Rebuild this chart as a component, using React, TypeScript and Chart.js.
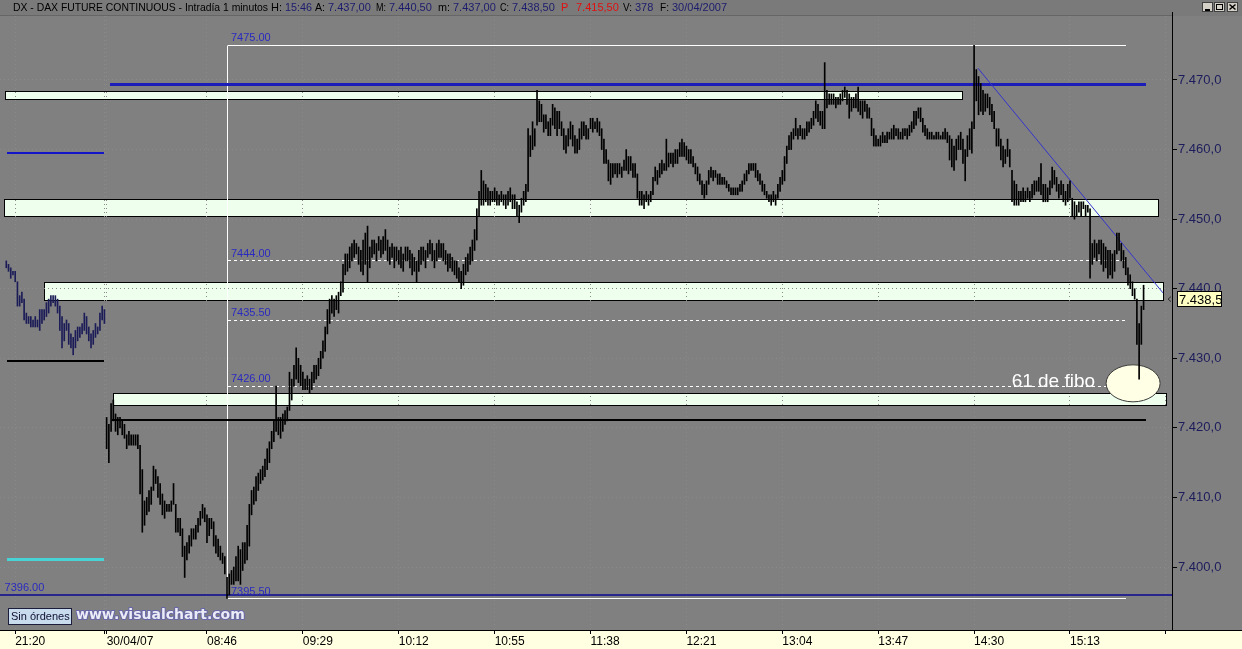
import React, { useEffect, useRef } from 'react';
import { Chart, registerables } from 'chart.js';

Chart.register(...registerables);

const FONT = '"Liberation Sans", Arial, sans-serif';

// x unit = one 1-minute bar. 0 = 22:00 of the previous session, 1 = 08:01 of 30/04/07
const prevStartK = -44;
const prevHigh = [
  7444, 7443.5, 7443, 7442.5, 7442.5, 7441, 7439, 7439.5, 7438.5, 7436.5,
  7436, 7436, 7435.5, 7436, 7435.5, 7437, 7437, 7437, 7438, 7438.5,
  7439, 7439, 7439, 7438.5, 7437.5, 7436, 7435, 7435.5, 7435, 7433.5,
  7433, 7434, 7434.5, 7434.5, 7435, 7436.5, 7436, 7434.5, 7433.5, 7434,
  7435, 7434.5, 7436.5, 7437.5, 7437,
];
const prevLow = [
  7443, 7442.5, 7441.5, 7442, 7441, 7437.5, 7437.5, 7438, 7435.5, 7435,
  7435, 7434.5, 7434.5, 7434.5, 7434.5, 7434, 7435, 7435.5, 7436, 7436.5,
  7437.5, 7438, 7437.5, 7436.5, 7434, 7431.5, 7432.5, 7434, 7432, 7431.5,
  7430.5, 7431.5, 7432.5, 7433, 7433.5, 7434, 7433.5, 7432.5, 7431.5, 7432,
  7433, 7433.5, 7434, 7435.5, 7435,
];

const todayStartK = 1;
const todayHigh = [
  7421.5, 7420.5, 7423.5, 7424, 7422, 7421.5, 7421.5, 7421, 7420.5, 7419,
  7419.5, 7419, 7419, 7419, 7419, 7417.5, 7414, 7409.5, 7410, 7411,
  7411.5, 7414.5, 7414, 7413, 7412, 7410.5, 7409.5, 7409, 7409, 7409.5,
  7412, 7409, 7407, 7407, 7405.5, 7403, 7403.5, 7404.5, 7405.5, 7405.5,
  7406, 7407, 7408, 7409, 7408.5, 7407.5, 7407, 7407, 7406.5, 7404.5,
  7404, 7403, 7402, 7401.5, 7398.5, 7399, 7399.5, 7400, 7401.5, 7403,
  7402.5, 7403.5, 7403.5, 7406, 7409, 7411, 7411.5, 7413, 7413.5, 7414,
  7414.5, 7415.5, 7417, 7418, 7419.5, 7421, 7426, 7421.5, 7421.5, 7422,
  7422.5, 7423, 7428, 7427, 7429, 7431.5, 7430, 7429, 7428, 7427,
  7427.5, 7427, 7428, 7429, 7429, 7430, 7431, 7432.5, 7434.5, 7437,
  7438.5, 7439, 7438.5, 7439, 7439.5, 7441, 7443.5, 7445, 7445, 7446,
  7446.5, 7447, 7446.5, 7446, 7445.5, 7447, 7448, 7449, 7446, 7447,
  7447, 7446.5, 7447.5, 7447, 7447.5, 7448.5, 7447, 7446, 7446.5, 7446,
  7446, 7445.5, 7446, 7445, 7446, 7446, 7445.5, 7445, 7444.5, 7444,
  7445.5, 7446, 7446, 7445.5, 7446.5, 7447, 7446.5, 7445.5, 7446.5, 7447,
  7446.5, 7446.5, 7445.5, 7445, 7445, 7444.5, 7444, 7444, 7443, 7442.5,
  7443.5, 7444.5, 7445, 7446, 7447, 7448.5, 7451.5, 7454, 7457, 7455.5,
  7455, 7454.5, 7454, 7454, 7454.5, 7454, 7453.5, 7454, 7453.5, 7453.5,
  7454, 7454.5, 7453.5, 7453.5, 7452.5, 7452, 7453, 7454, 7455, 7463,
  7462, 7464, 7463, 7468.5, 7467, 7466.5, 7465, 7465, 7464, 7464.5,
  7466.5, 7466, 7465.5, 7465.5, 7464, 7463, 7462, 7463, 7464, 7463.5,
  7462, 7461.5, 7463, 7464, 7464, 7463.5, 7463, 7464.5, 7464.5, 7464,
  7464.5, 7464, 7463, 7461.5, 7460, 7458.5, 7458, 7458, 7458, 7458,
  7458, 7457.5, 7458.5, 7460, 7459, 7459, 7458, 7458, 7456.5, 7454,
  7454, 7453.5, 7454, 7453.5, 7454, 7456, 7457.5, 7457, 7458, 7458.5,
  7458, 7461.5, 7459.5, 7459.5, 7459.5, 7460, 7460, 7461, 7461.5, 7461,
  7460.5, 7460, 7460, 7459, 7458, 7457.5, 7456.5, 7455.5, 7455, 7455.5,
  7457, 7457.5, 7457, 7457, 7456.5, 7456.5, 7456, 7456, 7455.5, 7455,
  7454.5, 7454.5, 7454.5, 7454.5, 7455, 7455.5, 7456.5, 7457, 7458, 7458,
  7458, 7458, 7457, 7456.5, 7455.5, 7455, 7454, 7453.5, 7453.5, 7454,
  7453.5, 7455, 7456, 7457, 7459, 7460.5, 7462, 7462.5, 7463, 7464.5,
  7463, 7463.5, 7463, 7463, 7464, 7464, 7464.5, 7465.5, 7467, 7466.5,
  7465.5, 7465.5, 7472.5, 7468.5, 7468, 7468, 7468, 7467.5, 7467.5, 7468,
  7468.5, 7469, 7468.5, 7468, 7467.5, 7467.5, 7468, 7469, 7467, 7467,
  7467, 7466.5, 7466, 7464.5, 7463, 7462, 7461.5, 7462, 7462.5, 7462,
  7462.5, 7462.5, 7463, 7463.5, 7463, 7463, 7462.5, 7463, 7463, 7463,
  7463.5, 7464, 7465.5, 7465.5, 7466, 7466, 7464.5, 7463.5, 7463, 7462.5,
  7462.5, 7462, 7462.5, 7462.5, 7462, 7462.5, 7463, 7462.5, 7462, 7461.5,
  7460.5, 7461.5, 7462, 7462.5, 7461.5, 7460, 7462, 7463, 7464, 7475,
  7471.5, 7470.5, 7469.5, 7468.5, 7468, 7468, 7467.5, 7466.5, 7465.5, 7463,
  7463, 7461.5, 7460.5, 7460, 7461.5, 7460, 7457, 7455.5, 7455, 7454,
  7454, 7454.5, 7454, 7454.5, 7454, 7455, 7455.5, 7455.5, 7456, 7458,
  7455, 7455, 7454.5, 7455.5, 7457.5, 7457, 7456, 7455, 7455.5, 7455,
  7454, 7455, 7455.5, 7453, 7452.5, 7452, 7452.5, 7452.5, 7452.5, 7452,
  7452, 7451.5, 7446.5, 7447, 7446.5, 7447, 7447, 7446.5, 7446, 7445.5,
  7445.5, 7445, 7445.5, 7448, 7448, 7446.5, 7445.5, 7444.5, 7443, 7442,
  7441, 7440, 7438.5, 7435, 7437.5, 7440.5,
];
const todayLow = [
  7417, 7415, 7419.5, 7421, 7419.5, 7419, 7420, 7419, 7418.5, 7417,
  7417.5, 7417.5, 7417.5, 7417.5, 7417, 7410.5, 7405, 7406, 7407.5, 7408,
  7409, 7411, 7412, 7410, 7409, 7407.5, 7407, 7408, 7408, 7408,
  7409, 7405, 7405, 7404.5, 7401.5, 7398.5, 7401, 7402, 7403, 7404,
  7404, 7405, 7406, 7407, 7406.5, 7403.5, 7404.5, 7405.5, 7403, 7402,
  7401.5, 7401, 7400.5, 7399, 7395.5, 7396, 7397.5, 7397.5, 7398, 7398,
  7397.5, 7399.5, 7400.5, 7401, 7403, 7407.5, 7409, 7409.5, 7411, 7412,
  7412.5, 7413, 7414, 7415, 7417, 7418, 7419.5, 7419, 7418.5, 7419.5,
  7420.5, 7421, 7422.5, 7424, 7426, 7427, 7426.5, 7426, 7425.5, 7425.5,
  7425.5, 7425, 7425.5, 7426.5, 7427, 7427.5, 7428.5, 7430, 7431, 7433.5,
  7435, 7436.5, 7436, 7437, 7436.5, 7439, 7439.5, 7442, 7442.5, 7443,
  7444, 7444.5, 7445, 7443.5, 7442.5, 7442, 7443.5, 7441, 7443, 7444.5,
  7445, 7444, 7445.5, 7444.5, 7445, 7445.5, 7444, 7443.5, 7444.5, 7443,
  7444, 7443.5, 7443, 7442.5, 7444, 7444, 7443, 7442, 7442.5, 7441,
  7442.5, 7443.5, 7444, 7443, 7444.5, 7445, 7444, 7443, 7444, 7444.5,
  7444.5, 7444, 7443.5, 7442.5, 7443, 7442.5, 7442, 7441.5, 7441, 7440,
  7440.5, 7442, 7442.5, 7443.5, 7444, 7445.5, 7447, 7450.5, 7452, 7452,
  7452.5, 7452, 7452, 7452.5, 7452.5, 7452, 7452, 7452.5, 7452, 7451.5,
  7452, 7452.5, 7451.5, 7451.5, 7450.5, 7449.5, 7451, 7452, 7452.5, 7454,
  7459, 7460, 7460.5, 7463.5, 7464, 7464, 7462.5, 7463, 7462, 7462,
  7463.5, 7463, 7462, 7463, 7462, 7460, 7459.5, 7460.5, 7461.5, 7460.5,
  7459.5, 7459.5, 7460, 7461.5, 7462, 7461.5, 7461.5, 7463, 7462.5, 7463,
  7462.5, 7462, 7460, 7458, 7458, 7455.5, 7455, 7456, 7456.5, 7456,
  7456.5, 7456, 7457, 7457, 7456.5, 7457, 7456, 7456, 7453, 7452,
  7452, 7451.5, 7452.5, 7452, 7452.5, 7453.5, 7455.5, 7455, 7456, 7456.5,
  7457, 7457, 7457.5, 7458, 7457.5, 7458, 7458, 7459, 7459, 7459,
  7458.5, 7458, 7458, 7457.5, 7456.5, 7455.5, 7455, 7453.5, 7453, 7453.5,
  7455, 7456, 7455.5, 7456, 7455, 7455, 7455, 7455, 7454.5, 7454,
  7453.5, 7453.5, 7453.5, 7453.5, 7454, 7454, 7455, 7455.5, 7456.5, 7457,
  7457, 7456, 7455.5, 7455, 7454, 7453.5, 7453, 7452.5, 7452, 7452.5,
  7452, 7453, 7454, 7455, 7455.5, 7458, 7460, 7460, 7461.5, 7462,
  7461.5, 7462, 7461.5, 7461.5, 7462, 7462.5, 7463, 7463.5, 7464.5, 7464,
  7463.5, 7463, 7463, 7466, 7466.5, 7466.5, 7466.5, 7466, 7466.5, 7466.5,
  7467, 7467.5, 7466.5, 7464.5, 7465.5, 7466, 7466, 7465.5, 7465, 7464.5,
  7465.5, 7464.5, 7464.5, 7462, 7460.5, 7460.5, 7460.5, 7460.5, 7461, 7461,
  7461, 7461.5, 7461.5, 7461.5, 7462, 7461.5, 7461.5, 7461.5, 7462, 7461.5,
  7462, 7462.5, 7463, 7463.5, 7464.5, 7464, 7462.5, 7462, 7461.5, 7461.5,
  7461.5, 7461.5, 7461.5, 7461.5, 7461.5, 7461.5, 7461.5, 7461, 7458.5, 7457.5,
  7457, 7458.5, 7460, 7460, 7458, 7455.5, 7459, 7460, 7459.5, 7463,
  7467, 7465, 7465.5, 7465, 7465.5, 7466, 7465, 7464, 7463, 7460.5,
  7460.5, 7458.5, 7457.5, 7458, 7459, 7457.5, 7452.5, 7452, 7452, 7452,
  7452.5, 7452.5, 7452.5, 7453, 7452.5, 7453, 7453.5, 7454, 7454, 7453.5,
  7452.5, 7452.5, 7452.5, 7453.5, 7454.5, 7455, 7454, 7453, 7453.5, 7452.5,
  7452, 7452.5, 7453, 7450.5, 7450, 7450.5, 7451, 7450.5, 7451.5, 7450.5,
  7451, 7441.5, 7443.5, 7444.5, 7444, 7445, 7443.5, 7442.5, 7443, 7441.5,
  7442, 7441.5, 7442.5, 7445, 7445.5, 7444, 7443, 7442, 7440.5, 7440,
  7439, 7438.5, 7432, 7427, 7432, 7437,
];
const lastClose = 7438.5;

// axis ticks
const xTickKs = [-40, 0, 1, 46, 89, 132, 175, 218, 261, 304, 347, 390, 433, 476];
const xTickLabels = ['21:20', '', '30/04/07', '08:46', '09:29', '10:12', '10:55', '11:38', '12:21', '13:04', '13:47', '14:30', '15:13', ''];
const yTickValues = [7400, 7410, 7420, 7430, 7440, 7450, 7460, 7470];

// support / resistance zones (time range in bars, price range)
const zoneStart = [-44.6, -45, -27.1, 3.9];
const zoneEnd = [384.6, 472.4, 474.7, 476];
const zoneTop = [7468.4, 7452.85, 7440.9, 7425.0];
const zoneBottom = [7467.25, 7450.45, 7438.4, 7423.3];

// horizontal levels
const levelPrice = [7469.4, 7459.5, 7429.6, 7401.1, 7421.1, 7396];
const levelFrom = [2.5, -43.7, -43.7, -43.7, 3.4, -47];
const levelTo = [467, 0, 0, 0, 467.2, 479];
const levelLabel = ['', '', '', '', '', '7396.00'];

// fibonacci box
const fibHigh = 7475;
const fibLow = 7395.5;
const fibLevels = [7444, 7435.5, 7426];
const fibFrom = 55.4;
const fibTo = 458;

// trend line
const trendK = [391.7, 474.7];
const trendP = [7471.7, 7439.4];

// note
const noteK = 461.3;
const noteP = 7426.4;
const noteText = '61 de fibo';

const titleSegments = [
  { text: 'DX - DAX FUTURE CONTINUOUS - Intradía 1 minutos', x: 13, c: '#000' },
  { text: 'H:', x: 271, c: '#000' },
  { text: '15:46', x: 285, c: '#1c1c6e' },
  { text: 'A:', x: 315, c: '#000' },
  { text: '7.437,00', x: 328, c: '#1c1c6e' },
  { text: 'M:', x: 376, c: '#000' },
  { text: '7.440,50', x: 389, c: '#1c1c6e' },
  { text: 'm:', x: 438, c: '#000' },
  { text: '7.437,00', x: 453, c: '#1c1c6e' },
  { text: 'C:', x: 500, c: '#000' },
  { text: '7.438,50', x: 512, c: '#1c1c6e' },
  { text: 'P', x: 561, c: '#e01010' },
  { text: '7.415,50', x: 576, c: '#e01010' },
  { text: 'V:', x: 623, c: '#000' },
  { text: '378', x: 635, c: '#1c1c6e' },
  { text: 'F:', x: 660, c: '#000' },
  { text: '30/04/2007', x: 672, c: '#1c1c6e' },
];

const fmtPrice = (v: number, d: number) => {
  const s = v.toFixed(d);
  const [i, f] = s.split('.');
  return i.replace(/\B(?=(\d{3})+(?!\d))/g, '.') + (f ? ',' + f : '');
};

const overlayPlugin = {
  id: 'overlay',
  beforeDraw(chart: any) {
    const { ctx, chartArea: ca, width: W, height: H } = chart;
    const X = (k: number) => chart.scales.x.getPixelForValue(k);
    const Y = (p: number) => chart.scales.y.getPixelForValue(p);
    ctx.save();
    ctx.fillStyle = '#808080';
    ctx.fillRect(0, 0, W, H);
    ctx.fillStyle = '#7a7a7a';
    ctx.fillRect(0, 0, W, ca.top);
    ctx.fillStyle = '#666666';
    ctx.fillRect(0, ca.top - 1, ca.right, 1);
    ctx.fillStyle = '#FFFFE1';
    ctx.fillRect(0, ca.bottom, W, H - ca.bottom);
    for (let i = 0; i < zoneTop.length; i++) {
      const x0 = Math.round(X(zoneStart[i])) + 0.5;
      const x1 = Math.round(X(zoneEnd[i])) + 0.5;
      const y0 = Math.round(Y(zoneTop[i])) + 0.5;
      const y1 = Math.round(Y(zoneBottom[i])) + 0.5;
      ctx.fillStyle = '#EEFFEE';
      ctx.fillRect(x0, y0, x1 - x0, y1 - y0);
      ctx.strokeStyle = '#000';
      ctx.lineWidth = 1;
      ctx.strokeRect(x0, y0, x1 - x0, y1 - y0);
    }
    ctx.restore();
  },
  beforeDatasetsDraw(chart: any) {
    const { ctx, chartArea: ca } = chart;
    const X = (k: number) => chart.scales.x.getPixelForValue(k);
    const Y = (p: number) => chart.scales.y.getPixelForValue(p);
    const snap = (v: number, w: number) => (w % 2 === 1 ? Math.round(v - 0.5) + 0.5 : Math.round(v));
    ctx.save();
    ctx.beginPath();
    ctx.rect(ca.left, ca.top, ca.right - ca.left, ca.bottom - ca.top);
    ctx.clip();
    const hline = (k0: number, k1: number, p: number, color: string, w: number, dash: number[] = []) => {
      const y = snap(Y(p), w);
      ctx.beginPath();
      ctx.setLineDash(dash);
      ctx.strokeStyle = color;
      ctx.lineWidth = w;
      ctx.moveTo(Math.round(X(k0)), y);
      ctx.lineTo(Math.round(X(k1)), y);
      ctx.stroke();
    };
    const levelColor = ['#1c1cb8', '#1414c8', '#000000', '#48d4d4', '#000000', '#26268e'];
    const levelWidth = [3, 2, 2, 3, 2, 2];
    // fib box
    const xf0 = snap(X(fibFrom), 1);
    ctx.setLineDash([]);
    ctx.strokeStyle = '#ffffff';
    ctx.lineWidth = 1;
    ctx.beginPath();
    ctx.moveTo(xf0, snap(Y(fibHigh), 1));
    ctx.lineTo(xf0, snap(Y(fibLow), 1));
    ctx.stroke();
    hline(fibFrom, fibTo, fibHigh, '#ffffff', 1);
    hline(fibFrom, fibTo, fibLow, '#ffffff', 1);
    for (const lv of fibLevels) hline(fibFrom, fibTo, lv, '#ffffff', 1, [3, 3]);
    for (let i = 0; i < levelPrice.length; i++) {
      hline(levelFrom[i], levelTo[i], levelPrice[i], levelColor[i], levelWidth[i]);
    }
    ctx.setLineDash([]);
    // labels
    ctx.font = '11px ' + FONT;
    ctx.fillStyle = '#2a2ac0';
    ctx.textBaseline = 'alphabetic';
    ctx.textAlign = 'left';
    const lx = X(fibFrom) + 3;
    ctx.fillText(fibHigh.toFixed(2), lx, Y(fibHigh) - 4);
    for (const lv of fibLevels) ctx.fillText(lv.toFixed(2), lx, Y(lv) - 4);
    ctx.fillText(fibLow.toFixed(2), lx, Y(fibLow) - 3);
    for (let i = 0; i < levelPrice.length; i++) {
      if (levelLabel[i]) ctx.fillText(levelLabel[i], X(levelFrom[i]) + 5, Y(levelPrice[i]) - 4);
    }
    // trend line
    ctx.strokeStyle = '#3434cc';
    ctx.lineWidth = 1;
    ctx.beginPath();
    ctx.moveTo(X(trendK[0]), Y(trendP[0]));
    ctx.lineTo(X(trendK[1]), Y(trendP[1]));
    ctx.stroke();
    // ellipse note
    const ex = X(noteK);
    const ey = Y(noteP);
    ctx.beginPath();
    ctx.ellipse(ex, ey, 27, 18.5, 0, 0, Math.PI * 2);
    ctx.fillStyle = '#FFFFE6';
    ctx.fill();
    ctx.strokeStyle = '#3a3a3a';
    ctx.stroke();
    ctx.font = '19px ' + FONT;
    ctx.fillStyle = '#ffffff';
    ctx.textAlign = 'right';
    ctx.textBaseline = 'middle';
    ctx.fillText(noteText, ex - 38, ey - 2);
    ctx.restore();
  },
  afterDraw(chart: any) {
    const { ctx, chartArea: ca, width: W } = chart;
    const Y = (p: number) => chart.scales.y.getPixelForValue(p);
    ctx.save();
    // frame lines (axis borders)
    ctx.fillStyle = '#000';
    ctx.fillRect(0, ca.bottom, W, 1);
    ctx.fillRect(ca.right, 12, 1, ca.bottom - 12);
    // title
    ctx.font = '11px ' + FONT;
    ctx.textBaseline = 'alphabetic';
    ctx.textAlign = 'left';
    for (let i = 0; i < titleSegments.length; i++) {
      const s = titleSegments[i];
      const next = titleSegments[i + 1];
      ctx.fillStyle = s.c;
      const natural = ctx.measureText(s.text).width;
      const maxW = next ? next.x - s.x - 3 : natural;
      ctx.fillText(s.text, s.x, 11, Math.min(natural, maxW));
    }
    // window buttons
    const bx = [1202, 1214, 1227];
    for (let i = 0; i < 3; i++) {
      ctx.fillStyle = '#d4d0c8';
      ctx.fillRect(bx[i], 2, 11, 10);
      ctx.strokeStyle = '#404040';
      ctx.lineWidth = 1;
      ctx.strokeRect(bx[i] + 0.5, 2.5, 10, 9);
    }
    ctx.fillStyle = '#000';
    ctx.fillRect(1205, 9, 5, 2);
    ctx.strokeStyle = '#000';
    ctx.strokeRect(1216.5, 4.5, 6, 5);
    ctx.fillRect(1216, 4, 7, 1);
    ctx.beginPath();
    ctx.lineWidth = 1.5;
    ctx.moveTo(1229.5, 4.5); ctx.lineTo(1235.5, 9.5);
    ctx.moveTo(1235.5, 4.5); ctx.lineTo(1229.5, 9.5);
    ctx.stroke();
    // last price tag
    const ty = Y(lastClose);
    ctx.lineWidth = 1;
    ctx.fillStyle = '#FFFFC4';
    ctx.fillRect(ca.right + 5, Math.round(ty) - 8, 45, 16);
    ctx.strokeStyle = '#000';
    ctx.strokeRect(ca.right + 5.5, Math.round(ty) - 7.5, 44, 15);
    ctx.font = '13px ' + FONT;
    ctx.fillStyle = '#000';
    ctx.textBaseline = 'middle';
    ctx.fillText(fmtPrice(lastClose, 1), ca.right + 7, ty + 1);
    ctx.beginPath();
    ctx.strokeStyle = '#303030';
    ctx.moveTo(ca.right - 1, ty - 2.5);
    ctx.lineTo(ca.right - 4, ty);
    ctx.lineTo(ca.right - 1, ty + 2.5);
    ctx.stroke();
    // orders button + watermark
    ctx.fillStyle = '#c8dcee';
    ctx.fillRect(8, 608, 64, 17);
    ctx.strokeStyle = '#1c1c3c';
    ctx.strokeRect(8.5, 608.5, 63, 16);
    ctx.font = '11px ' + FONT;
    ctx.fillStyle = '#101030';
    ctx.textBaseline = 'middle';
    ctx.fillText('Sin órdenes', 11, 617);
    ctx.font = 'bold 14px "DejaVu Sans", Verdana, sans-serif';
    ctx.lineWidth = 2;
    ctx.strokeStyle = '#6666a8';
    ctx.lineJoin = 'round';
    ctx.strokeText('www.visualchart.com', 76, 615);
    ctx.fillStyle = '#ececf6';
    ctx.fillText('www.visualchart.com', 76, 615);
    ctx.restore();
  },
};

export default function App() {
  const ref = useRef<HTMLCanvasElement | null>(null);
  useEffect(() => {
    if (!ref.current) return;
    const prevData = prevHigh.map((h, i) => ({ x: prevStartK + i, y: [prevLow[i], h] }));
    const todayData = todayHigh.map((h, i) => ({ x: todayStartK + i, y: [todayLow[i], h] }));
    const chart = new Chart(ref.current, {
      type: 'bar',
      data: {
        datasets: [
          { label: 'Sesión anterior', data: prevData as any, backgroundColor: '#1c1c58', borderWidth: 0, barThickness: 1, grouped: false } as any,
          { label: 'DX 1 minuto', data: todayData as any, backgroundColor: '#000000', borderWidth: 0, barThickness: 1, grouped: false } as any,
        ],
      },
      plugins: [overlayPlugin],
      options: {
        responsive: false,
        animation: false,
        events: [],
        layout: { padding: { top: 16, left: 0, right: 0, bottom: 0 }, autoPadding: false } as any,
        plugins: { legend: { display: false }, tooltip: { enabled: false }, title: { display: false } },
        scales: {
          x: {
            type: 'linear',
            min: -46.816,
            max: 478.744,
            offset: false,
            bounds: 'data',
            afterFit: (s: any) => { s.height = 19; },
            afterBuildTicks: (s: any) => { s.ticks = xTickKs.map((v) => ({ value: v })); },
            grid: { color: '#8a8a8a', offset: false, drawTicks: true, tickLength: 4, tickColor: '#000', tickBorderDash: [], tickWidth: 1 } as any,
            border: { display: false, dash: [1, 3] },
            ticks: {
              autoSkip: false,
              maxRotation: 0,
              minRotation: 0,
              align: 'start',
              padding: 0,
              color: '#000',
              font: { family: FONT, size: 12 },
              callback: (v: any) => {
                const i = xTickKs.indexOf(Number(v));
                return i >= 0 ? xTickLabels[i] : '';
              },
            },
          } as any,
          y: {
            type: 'linear',
            position: 'right',
            min: 7390.9446,
            max: 7479.199,
            bounds: 'data',
            afterFit: (s: any) => { s.width = 70; },
            afterBuildTicks: (s: any) => { s.ticks = yTickValues.map((v) => ({ value: v })); },
            grid: { color: '#8a8a8a', drawTicks: true, tickLength: 5, tickColor: '#000', tickBorderDash: [], tickWidth: 1 } as any,
            border: { display: false, dash: [1, 3] },
            ticks: {
              padding: 1,
              color: '#1c1c5c',
              font: { family: FONT, size: 13 },
              callback: (v: any) => fmtPrice(Number(v), 1),
            },
          } as any,
        },
      },
    } as any);
    return () => chart.destroy();
  }, []);
  return (
    <div style={{ position: 'fixed', left: 0, top: 0, width: 1242, height: 649 }}>
      <canvas ref={ref} width={1242} height={649} style={{ display: 'block', width: 1242, height: 649 }} />
    </div>
  );
}
